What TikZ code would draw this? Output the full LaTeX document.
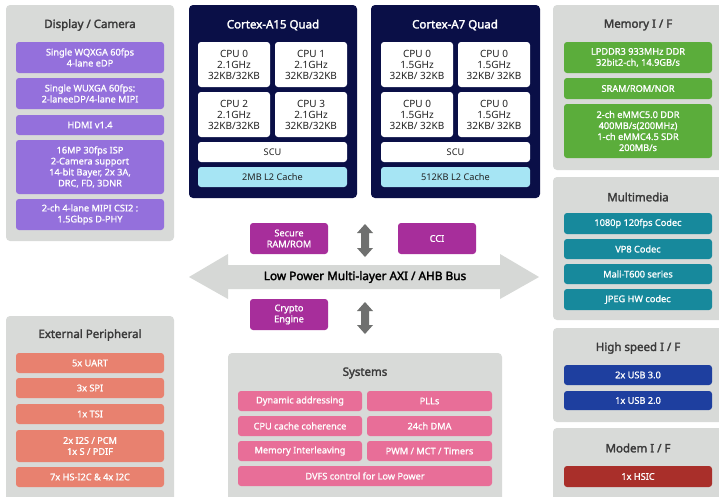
\documentclass[tikz,border=0pt]{standalone}
\usepackage{fontspec}
\setmainfont{Noto Sans}
\newfontfamily\medf[FakeBold=1.1]{Noto Sans}
\newfontfamily\boldf[FakeBold=2.2]{Noto Sans}
\definecolor{panelgray}{HTML}{D8DAD8}
\definecolor{navy}{HTML}{0A0F47}
\definecolor{cachecyan}{HTML}{A6E5F4}
\definecolor{dpurple}{HTML}{9470DC}
\definecolor{mgreen}{HTML}{5BAD3B}
\definecolor{mteal}{HTML}{17899C}
\definecolor{hblue}{HTML}{1E3F9F}
\definecolor{mred}{HTML}{A92F2A}
\definecolor{salmon}{HTML}{E8816F}
\definecolor{spink}{HTML}{E86E98}
\definecolor{magent}{HTML}{A72E9B}
\definecolor{arrowgray}{HTML}{6F706F}
\definecolor{busgray}{HTML}{D6D8D6}
\definecolor{titletext}{HTML}{3A3A3A}
\definecolor{cputext}{HTML}{222222}
\newcommand\bx[7]{\node[#6, minimum width={(#4-#2)*1pt}, minimum height={(#5-#3)*1pt}, inner sep=0pt] (#1) at ({(#2+#4)/2},{(#3+#5)/2}) {#7};}
\newcommand\vdarrow[3]{\fill[arrowgray] (#1,#2) -- (#1+8,#2+9) -- (#1+4,#2+9) -- (#1+4,#3-9) -- (#1+8,#3-9) -- (#1,#3) -- (#1-8,#3-9) -- (#1-4,#3-9) -- (#1-4,#2+9) -- (#1-8,#2+9) -- cycle;}
\tikzset{
  panel/.style={fill=panelgray, rounded corners=4pt},
  box/.style={rounded corners=3pt, text=white, align=center, font=\fontsize{9.2}{11}\medf},
  cpubox/.style={rounded corners=3pt, fill=white, text=cputext, align=center, font=\fontsize{10}{11}\selectfont},
  ptitle/.style={text=titletext, font=\fontsize{11.5}{13}\boldf},
  ctitle/.style={text=white, font=\fontsize{11.5}{13}\boldf},
}
\begin{document}
\begin{tikzpicture}[x=1pt,y=-1pt]
\useasboundingbox (0,0) rectangle (719,496);
\clip (0,0) rectangle (719,496);
\fill[white] (0,0) rectangle (719,496);

% Display / Camera
\bx{dispP}{6}{5}{174}{241}{panel}{}
\node[ptitle] (dispT) at (90,25) {Display / Camera};
\bx{d1}{16}{42}{164}{73}{box,fill=dpurple}{Single WQXGA 60fps\\4-lane eDP}
\bx{d2}{16}{78}{164}{109}{box,fill=dpurple}{Single WUXGA 60fps:\\2-laneeDP/4-lane MIPI}
\bx{d3}{16}{115}{164}{135}{box,fill=dpurple}{HDMI v1.4}
\bx{d4}{16}{140}{164}{194}{box,fill=dpurple}{16MP 30fps ISP\\2-Camera support\\14-bit Bayer, 2x 3A,\\DRC, FD, 3DNR}
\bx{d5}{16}{199}{164}{230}{box,fill=dpurple}{2-ch 4-lane MIPI CSI2 :\\1.5Gbps D-PHY}

% Cortex-A15
\bx{a15P}{189}{5}{357}{198}{fill=navy, rounded corners=4pt}{}
\node[ctitle] (a15T) at (273,25) {Cortex-A15 Quad};
\bx{a15c0}{198}{42}{270}{87}{cpubox}{CPU 0\\2.1GHz\\32KB/32KB}
\bx{a15c1}{275}{42}{347}{87}{cpubox}{CPU 1\\2.1GHz\\32KB/32KB}
\bx{a15c2}{198}{92}{270}{137}{cpubox}{CPU 2\\2.1GHz\\32KB/32KB}
\bx{a15c3}{275}{92}{347}{137}{cpubox}{CPU 3\\2.1GHz\\32KB/32KB}
\bx{a15scu}{198}{142}{347}{162}{cpubox,font=\fontsize{9.2}{11}\selectfont}{SCU}
\bx{a15l2}{198}{167}{347}{187}{cpubox,fill=cachecyan,font=\fontsize{9.2}{11}\selectfont}{2MB L2 Cache}

% Cortex-A7
\bx{a7P}{371}{5}{540}{198}{fill=navy, rounded corners=4pt}{}
\node[ctitle] (a7T) at (455,25) {Cortex-A7 Quad};
\bx{a7c0}{381}{42}{453}{87}{cpubox}{CPU 0\\1.5GHz\\32KB/ 32KB}
\bx{a7c1}{458}{42}{530}{87}{cpubox}{CPU 0\\1.5GHz\\32KB/ 32KB}
\bx{a7c2}{381}{92}{453}{137}{cpubox}{CPU 0\\1.5GHz\\32KB/ 32KB}
\bx{a7c3}{458}{92}{530}{137}{cpubox}{CPU 0\\1.5GHz\\32KB/ 32KB}
\bx{a7scu}{381}{142}{530}{162}{cpubox,font=\fontsize{9.2}{11}\selectfont}{SCU}
\bx{a7l2}{381}{167}{530}{187}{cpubox,fill=cachecyan,font=\fontsize{9.2}{11}\selectfont}{512KB L2 Cache}

% Memory I/F
\bx{memP}{553}{5}{727}{170}{panel}{}
\node[ptitle] (memT) at (638,25) {Memory I / F};
\bx{m1}{564}{42}{712}{73}{box,fill=mgreen}{LPDDR3 933MHz DDR\\32bit2-ch, 14.9GB/s}
\bx{m2}{564}{78}{712}{99}{box,fill=mgreen}{SRAM/ROM/NOR}
\bx{m3}{564}{104}{712}{158}{box,fill=mgreen}{2-ch eMMC5.0 DDR\\400MB/s(200MHz)\\1-ch eMMC4.5 SDR\\200MB/s}

% Multimedia
\bx{mmP}{553}{177}{727}{320}{panel}{}
\node[ptitle] (mmT) at (638,197) {Multimedia};
\bx{mm1}{564}{213}{712}{234}{box,fill=mteal}{1080p 120fps Codec}
\bx{mm2}{564}{239}{712}{259}{box,fill=mteal}{VP8 Codec}
\bx{mm3}{564}{264}{712}{284}{box,fill=mteal}{Mali-T600 series}
\bx{mm4}{564}{289}{712}{310}{box,fill=mteal}{JPEG HW codec}

% High speed I/F
\bx{hsP}{553}{328}{727}{422}{panel}{}
\node[ptitle] (hsT) at (638,348) {High speed I / F};
\bx{hs1}{564}{365}{712}{385}{box,fill=hblue}{2x USB 3.0}
\bx{hs2}{564}{391}{712}{410}{box,fill=hblue}{1x USB 2.0}

% Modem I/F
\bx{moP}{553}{428}{727}{505}{panel}{}
\node[ptitle] (moT) at (638,448) {Modem I / F};
\bx{mo1}{564}{466}{712}{487}{box,fill=mred}{1x HSIC}

% External Peripheral
\bx{epP}{6}{316}{174}{505}{panel}{}
\node[ptitle] (epT) at (90,335) {External Peripheral};
\bx{e1}{16}{353}{164}{373}{box,fill=salmon}{5x UART}
\bx{e2}{16}{378}{164}{398}{box,fill=salmon}{3x SPI}
\bx{e3}{16}{404}{164}{424}{box,fill=salmon}{1x TSI}
\bx{e4}{16}{430}{164}{462}{box,fill=salmon}{2x I2S / PCM\\1x S / PDIF}
\bx{e5}{16}{467}{164}{487}{box,fill=salmon}{7x HS-I2C \& 4x I2C}

% Systems
\bx{sysP}{228}{353}{502}{505}{panel}{}
\node[ptitle] (sysT) at (365,373) {Systems};
\bx{s1}{238}{391}{362}{411}{box,fill=spink}{Dynamic addressing}
\bx{s2}{367}{391}{492}{411}{box,fill=spink}{PLLs}
\bx{s3}{238}{416}{362}{436}{box,fill=spink}{CPU cache coherence}
\bx{s4}{367}{416}{492}{436}{box,fill=spink}{24ch DMA}
\bx{s5}{238}{441}{362}{461}{box,fill=spink}{Memory Interleaving}
\bx{s6}{367}{441}{492}{461}{box,fill=spink}{PWM / MCT / Timers}
\bx{s7}{238}{466}{492}{486}{box,fill=spink}{DVFS control for Low Power}

% Bus
\fill[busgray] (189,277) -- (228,254) -- (228,265) -- (500,265) -- (500,254) -- (539,277) -- (500,299) -- (500,289) -- (228,289) -- (228,299) -- cycle;
\node[text=black, font=\fontsize{11.8}{13}\boldf] (bus) at (365,277) {Low Power Multi-layer AXI / AHB Bus};
\bx{sec}{250}{223}{328}{254}{box,fill=magent}{Secure\\RAM/ROM}
\bx{cci}{398}{223}{476}{254}{box,fill=magent}{CCI}
\bx{cry}{250}{299}{328}{330}{box,fill=magent}{Crypto\\Engine}
\vdarrow{365}{224}{257}
\vdarrow{365}{302}{334}
\end{tikzpicture}
\end{document}
